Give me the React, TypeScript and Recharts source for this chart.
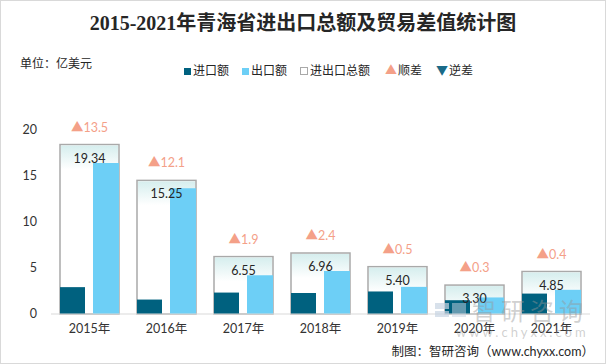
import React from 'react';
import { ComposedChart, Bar, Line, XAxis, YAxis, LabelList } from 'recharts';

const years = ['2015年', '2016年', '2017年', '2018年', '2019年', '2020年', '2021年'];
const imports = [2.92, 1.57, 2.33, 2.28, 2.45, 1.5, 2.22];
const exportsV = [16.42, 13.68, 4.22, 4.68, 2.95, 1.8, 2.63];
const totals = [19.34, 15.25, 6.55, 6.96, 5.4, 3.3, 4.85];
const balances = [13.5, 12.1, 1.9, 2.4, 0.5, 0.3, 0.4];
const yTicks = [0, 5, 10, 15, 20];

const data = years.map((y, i) => ({
  year: y,
  imp: imports[i],
  exp: exportsV[i],
  total: totals[i],
  bal: balances[i],
}));

const C_IMP = '#00617f';
const C_EXP = '#6dcff6';
const C_UP = '#f4a088';
const C_DOWN = '#1a6a88';
const FONT = 'Lato, "Noto Sans CJK SC", sans-serif';

const TotalShape = (props: any) => {
  const { x, y, width, height } = props;
  if (!height || height <= 0) return null;
  const fadeH = Math.min(24, height - 2);
  return (
    <g>
      <rect x={x} y={y} width={width} height={height} fill="#ffffff" stroke="#a9a9a9" strokeWidth={1.5} />
      <rect x={x + 1} y={y + 1} width={width - 2} height={fadeH} fill="url(#topFade)" />
    </g>
  );
};

const renderLabels = (props: any) => {
  const { x, y, index } = props;
  const t = totals[index];
  const b = balances[index];
  const up = b >= 0;
  return (
    <g>
      <text x={x} y={y + 18} textAnchor="middle" fontSize={12.5} fill="#262626" fontFamily={FONT}>
        {t.toFixed(2)}
      </text>
      <text x={x} y={y - 13} textAnchor="middle" fontSize={12.5} fill={up ? C_UP : C_DOWN} fontFamily={FONT}>
        {(up ? '▲' : '▼') + Math.abs(b).toFixed(1)}
      </text>
    </g>
  );
};

const legendItems = [
  { x: 184, mark: 'sq', color: C_IMP, label: '进口额' },
  { x: 242, mark: 'sq', color: C_EXP, label: '出口额' },
  { x: 300, mark: 'box', color: '#a9a9a9', label: '进出口总额' },
  { x: 385, mark: 'up', color: C_UP, label: '顺差' },
  { x: 436, mark: 'down', color: C_DOWN, label: '逆差' },
];

export default function App() {
  return (
    <div style={{ position: 'absolute', left: 0, top: 0, width: 606, height: 364, background: '#fff', fontFamily: FONT }}>
      <div style={{ position: 'absolute', left: 0, top: 0, width: 604, height: 362, border: '1px solid #d9d9d9' }} />
      <div style={{ position: 'absolute', left: 0, top: 0 }}>
        <ComposedChart
          width={606}
          height={364}
          data={data}
          margin={{ top: 130, right: 16, bottom: 20, left: 11 }}
          barGap={8}
        >
          <defs>
            <linearGradient id="topFade" x1="0" y1="0" x2="0" y2="1">
              <stop offset="0" stopColor="#d6eeee" />
              <stop offset="1" stopColor="#ffffff" />
            </linearGradient>
          </defs>
          <XAxis
            xAxisId="main"
            dataKey="year"
            height={30}
            axisLine={{ stroke: '#d9d9d9' }}
            tickLine={false}
            tickMargin={4}
            tick={{ fontSize: 12.5, fill: '#333333', fontFamily: FONT }}
            interval={0}
          />
          <XAxis xAxisId="total" dataKey="year" hide />
          <YAxis
            yAxisId="left"
            width={40}
            domain={[0, 20]}
            ticks={yTicks}
            axisLine={false}
            tickLine={false}
            tickSize={6}
            tickMargin={8}
            tick={{ fontSize: 12.5, fill: '#333333', fontFamily: FONT }}
          />
          <YAxis yAxisId="right" hide domain={[0, 21]} />
          <Bar
            xAxisId="total"
            yAxisId="right"
            dataKey="total"
            barSize={59}
            shape={TotalShape}
            isAnimationActive={false}
          />
          <Bar xAxisId="main" yAxisId="left" dataKey="imp" barSize={25} fill={C_IMP} isAnimationActive={false} />
          <Bar xAxisId="main" yAxisId="left" dataKey="exp" barSize={26} fill={C_EXP} isAnimationActive={false} />
          <Line
            xAxisId="total"
            yAxisId="right"
            dataKey="total"
            stroke="none"
            dot={false}
            activeDot={false}
            isAnimationActive={false}
          >
            <LabelList dataKey="total" content={renderLabels} />
          </Line>
        </ComposedChart>
      </div>

      {/* title */}
      <div
        style={{
          position: 'absolute',
          left: 0,
          width: 606,
          top: 9,
          textAlign: 'center',
          fontSize: 20,
          fontWeight: 'bold',
          color: '#262626',
          fontFamily: '"Liberation Serif", "Noto Sans CJK SC", serif',
          lineHeight: '28px',
        }}
      >
        2015-2021年青海省进出口总额及贸易差值统计图
      </div>

      {/* unit */}
      <div style={{ position: 'absolute', left: 20, top: 56, fontSize: 12, color: '#262626', lineHeight: '16px' }}>
        单位：亿美元
      </div>

      {/* legend */}
      {legendItems.map((it) => (
        <div key={it.label} style={{ position: 'absolute', left: it.x, top: 63, height: 16, display: 'flex', alignItems: 'center' }}>
          {it.mark === 'sq' && <div style={{ width: 7, height: 7, background: it.color, marginRight: 2 }} />}
          {it.mark === 'box' && (
            <div style={{ width: 6, height: 6, border: '1px solid #a9a9a9', background: '#fff', marginRight: 2 }} />
          )}
          {it.mark === 'up' && <span style={{ color: it.color, fontSize: 12, lineHeight: '16px', marginRight: 1 }}>▲</span>}
          {it.mark === 'down' && <span style={{ color: it.color, fontSize: 12, lineHeight: '16px', marginRight: 1 }}>▼</span>}
          <span style={{ fontSize: 12, color: '#262626', lineHeight: '16px' }}>{it.label}</span>
        </div>
      ))}

      {/* watermark */}
      <div style={{ position: 'absolute', left: 435, top: 303, width: 14, height: 6, background: '#c8d4e2', opacity: 0.7 }} />
      <div style={{ position: 'absolute', left: 435, top: 311, width: 14, height: 6, background: '#c8d4e2', opacity: 0.7 }} />
      <div style={{ position: 'absolute', left: 452, top: 303, width: 14, height: 14, background: '#c8d4e2', opacity: 0.5 }} />
      <div
        style={{
          position: 'absolute',
          left: 472,
          top: 296,
          fontSize: 24,
          letterSpacing: 5,
          color: 'rgba(150,150,150,0.45)',
          lineHeight: '30px',
          whiteSpace: 'nowrap',
        }}
      >
        智研咨询
      </div>
      <div
        style={{
          position: 'absolute',
          left: 456,
          top: 325,
          fontSize: 13,
          letterSpacing: 3,
          color: 'rgba(150,150,150,0.45)',
          lineHeight: '14px',
          whiteSpace: 'nowrap',
        }}
      >
        www.chyxx.com
      </div>

      {/* footer */}
      <div
        style={{
          position: 'absolute',
          right: 12,
          top: 343,
          fontSize: 12.5,
          color: '#262626',
          lineHeight: '17px',
          whiteSpace: 'nowrap',
        }}
      >
        制图：智研咨询（www.chyxx.com）
      </div>
    </div>
  );
}
